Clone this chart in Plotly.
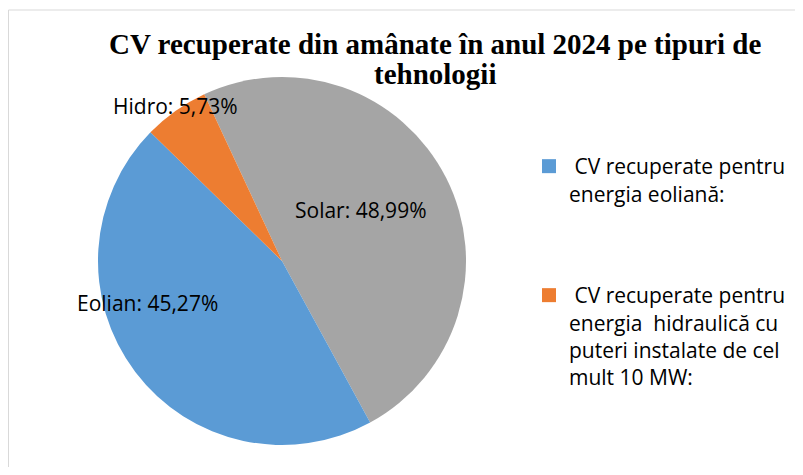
import plotly.graph_objects as go

# ---- data ----
categories = ["Solar", "Eolian", "Hidro"]
shares = [48.99, 45.27, 5.73]
colors = ["#a5a5a5", "#5b9bd5", "#ed7d31"]
legend_labels = {
    "Eolian": "\u00a0CV recuperate pentru<br>energia eoliană:",
    "Hidro": "\u00a0CV recuperate pentru<br>energia\u00a0 hidraulică cu<br>puteri instalate de cel<br>mult 10 MW:",
}
title_lines = ["CV recuperate din amânate în anul 2024 pe tipuri de", "tehnologii"]

# page is rendered with the browser's default 8px body margin
OFF = 8
W, H = 803 - 2 * OFF, 475 - 2 * OFF
SANS = "Open Sans"


def px_x(x):  # page pixel -> paper x
    return (x - OFF) / W


def px_y(y):  # page pixel (from top) -> paper y
    return 1 - (y - OFF) / H


fig = go.Figure()
fig.add_trace(go.Pie(
    labels=categories,
    values=shares,
    sort=False,
    direction="clockwise",
    rotation=-25,
    marker=dict(colors=colors, line=dict(width=0)),
    textinfo="none",
    hoverinfo="label+percent",
    showlegend=False,
    domain=dict(x=[px_x(98), px_x(466)], y=[px_y(445), px_y(77)]),
))

# legend entries (Solar is not listed in the original legend)
legend_pos = {"Eolian": ("legend", 146), "Hidro": ("legend2", 275)}
for cat, col in zip(categories, colors):
    if cat not in legend_labels:
        continue
    lg, ytop = legend_pos[cat]
    fig.add_trace(go.Scatter(
        x=[None], y=[None], mode="markers",
        marker=dict(symbol="square", size=14, color=col),
        name=legend_labels[cat], legend=lg, showlegend=True,
    ))


def fmt(v):
    return f"{v:.2f}".replace(".", ",") + "%"


label_pos = {"Solar": (361, 210), "Eolian": (147, 303), "Hidro": (175, 106)}
annotations = []
for cat, v in zip(categories, shares):
    px, py = label_pos[cat]
    annotations.append(dict(
        text=f"{cat}: {fmt(v)}", x=px_x(px), y=px_y(py), xref="paper", yref="paper",
        showarrow=False, xanchor="center", yanchor="middle",
        font=dict(family=SANS, size=21, color="#000000"),
    ))

for line, ty in zip(title_lines, [44, 74]):
    annotations.append(dict(
        text=line, x=px_x(435), y=px_y(ty), xref="paper", yref="paper",
        showarrow=False, xanchor="center", yanchor="middle",
        font=dict(family="Liberation Serif", size=29, color="#000000", weight="bold"),
    ))

legend_common = dict(xanchor="left", yanchor="top", valign="top",
                     font=dict(family=SANS, size=21, color="#000000"),
                     bgcolor="rgba(0,0,0,0)")

fig.update_layout(
    width=W, height=H,
    margin=dict(l=0, r=0, t=0, b=0),
    paper_bgcolor="white", plot_bgcolor="white",
    xaxis=dict(visible=False), yaxis=dict(visible=False),
    legend=dict(x=px_x(529), y=px_y(legend_pos["Eolian"][1]), **legend_common),
    legend2=dict(x=px_x(529), y=px_y(legend_pos["Hidro"][1]), **legend_common),
    annotations=annotations,
    shapes=[dict(type="rect", xref="paper", yref="paper",
                 x0=0.5 / W, x1=1.02, y0=-0.02, y1=px_y(10),
                 line=dict(color="#d9d9d9", width=1), layer="below")],
)

fig.write_html("out.html")
